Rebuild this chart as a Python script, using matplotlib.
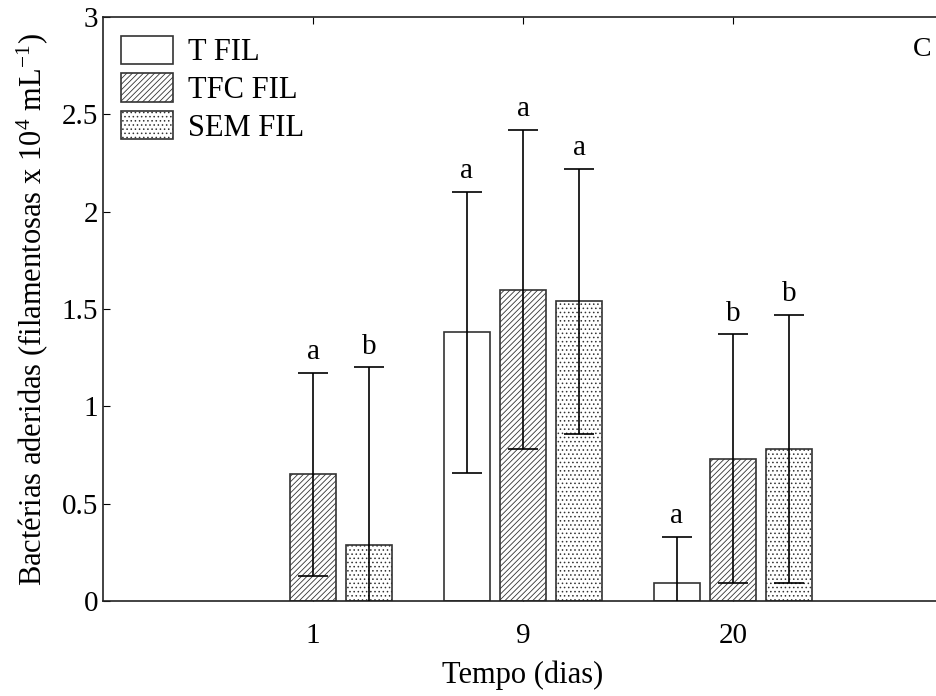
import numpy as np
import matplotlib
matplotlib.use("Agg")
from matplotlib import pyplot as plt

# bacteria counts per treatment (x 10^4 mL^-1), mean and standard deviation
days = ["1", "9", "20"]
treatments = ["T FIL", "TFC FIL", "SEM FIL"]
means = {
    "T FIL": [0.0, 1.38, 0.09],
    "TFC FIL": [0.65, 1.60, 0.73],
    "SEM FIL": [0.29, 1.54, 0.78],
}
errors = {
    "T FIL": [0.0, 0.72, 0.24],
    "TFC FIL": [0.52, 0.82, 0.64],
    "SEM FIL": [0.91, 0.68, 0.69],
}
letters = {
    "T FIL": ["", "a", "a"],
    "TFC FIL": ["a", "a", "b"],
    "SEM FIL": ["b", "a", "b"],
}
hatches = {"T FIL": "", "TFC FIL": "//////", "SEM FIL": "...."}

plt.rcParams["font.family"] = ["Liberation Serif", "DejaVu Serif"]
plt.rcParams["mathtext.fontset"] = "stix"
plt.rcParams["hatch.linewidth"] = 0.6
plt.rcParams["hatch.color"] = "#333333"

fig = plt.figure(figsize=(9.36, 6.96), dpi=100)
ax = fig.add_axes([103 / 936, 95 / 696, 840 / 936, 584 / 696])

x = np.arange(len(days))
width = 0.219
offset = 0.267

for i, name in enumerate(treatments):
    pos = x + (i - 1) * offset
    vals = np.array(means[name])
    errs = np.array(errors[name])
    present = vals > 0
    ax.bar(pos[present], vals[present], width, color="white", edgecolor="#333333",
           linewidth=1.2, hatch=hatches[name], label=name, zorder=2)
    ax.errorbar(pos[present], vals[present], yerr=errs[present], fmt="none",
                ecolor="black", elinewidth=1.2, capsize=11, capthick=1.2, zorder=3)
    for p, v, e, lab in zip(pos, vals, errs, letters[name]):
        if lab:
            ax.text(p, v + e + 0.04, lab, ha="center", va="bottom", fontsize=21)

ax.set_xlim(-1.0, 3.0)
ax.set_ylim(0, 3)
ax.set_xticks(x)
ax.set_xticklabels(days)
ax.set_yticks([0, 0.5, 1, 1.5, 2, 2.5, 3])
ax.set_yticklabels(["0", "0.5", "1", "1.5", "2", "2.5", "3"])
ax.tick_params(direction="in", length=5, labelsize=21, top=True, right=False)
ax.tick_params(axis="x", pad=16)
ax.spines["right"].set_visible(False)
for s in ["left", "bottom", "top"]:
    ax.spines[s].set_linewidth(1.2)
    ax.spines[s].set_color("#222222")

ax.set_xlabel("Tempo (dias)", fontsize=22, labelpad=8)
ax.set_ylabel(r"Bactérias aderidas (filamentosas x 10$^\mathregular{4}$ mL$^\mathregular{-1}$)",
              fontsize=22, labelpad=8)

ax.text(0.975, 0.945, "C", transform=ax.transAxes, ha="center", va="center", fontsize=20)

ax.legend(loc="upper left", bbox_to_anchor=(0.022, 0.968), frameon=False, fontsize=22,
          handlelength=1.67, handleheight=1.05, labelspacing=0.2, handletextpad=0.5,
          borderpad=0, borderaxespad=0)

fig.savefig("out.png", dpi=100)
